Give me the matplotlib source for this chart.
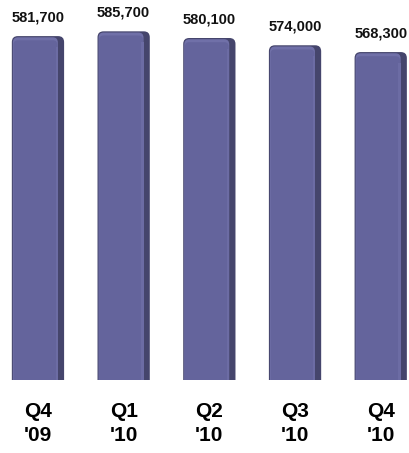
import numpy as np
import matplotlib.pyplot as plt
from matplotlib.patches import FancyBboxPatch

quarters = ["Q4\n'09", "Q1\n'10", "Q2\n'10", "Q3\n'10", "Q4\n'10"]
values = [581700, 585700, 580100, 574000, 568300]

plt.rcParams['font.family'] = ['Liberation Sans', 'DejaVu Sans']

fig = plt.figure(figsize=(4.09, 4.53), dpi=100)
ax = fig.add_axes([0, 73 / 453, 1, 380 / 453])

xlim = (-0.443, 4.33)
ylim = (293000, 612000)
ax.set_xlim(*xlim)
ax.set_ylim(*ylim)
# data units per pixel, used to keep corners round
aspect = ((ylim[1] - ylim[0]) / 380) / ((xlim[1] - xlim[0]) / 409)

x = np.arange(len(values))
w = 0.61
bars = ax.bar(x, values, width=w, color='none', zorder=1)

def rounded(x0, y0, bw, bh, color, rad, z):
    p = FancyBboxPatch((x0 + rad, y0), bw - 2 * rad, bh - rad * aspect,
                       boxstyle='round,pad={}'.format(rad),
                       mutation_aspect=aspect, fc=color, ec='none', zorder=z)
    ax.add_patch(p)

for b in bars:
    x0, bw, bh = b.get_x(), b.get_width(), b.get_height()
    # dark side / outline
    rounded(x0, 0, bw, bh, '#45456c', 0.07, 2)
    # lighter top bevel
    rounded(x0 + 0.012, 0, bw - 0.085, bh - 1000, '#7070a8', 0.06, 3)
    # main face
    rounded(x0 + 0.02, 0, bw - 0.1, bh - 3500, '#64649c', 0.05, 4)
    # light strip next to the side
    ax.bar(x0 + bw - 0.1, bh - 9000, width=0.03, align='edge',
           color='#6c6ca4', zorder=5)

for xi, v in zip(x, values):
    ax.text(xi, v + 10000, '{:,}'.format(v), ha='center', va='bottom',
            fontsize=10.5, fontweight='bold', color='#111111')

ax.set_xticks(x)
ax.set_xticklabels(quarters, fontsize=15, fontweight='bold', linespacing=1.35)
ax.tick_params(axis='x', length=0, pad=16)
ax.set_yticks([])
for s in ax.spines.values():
    s.set_visible(False)

plt.savefig('out.png', dpi=100)
